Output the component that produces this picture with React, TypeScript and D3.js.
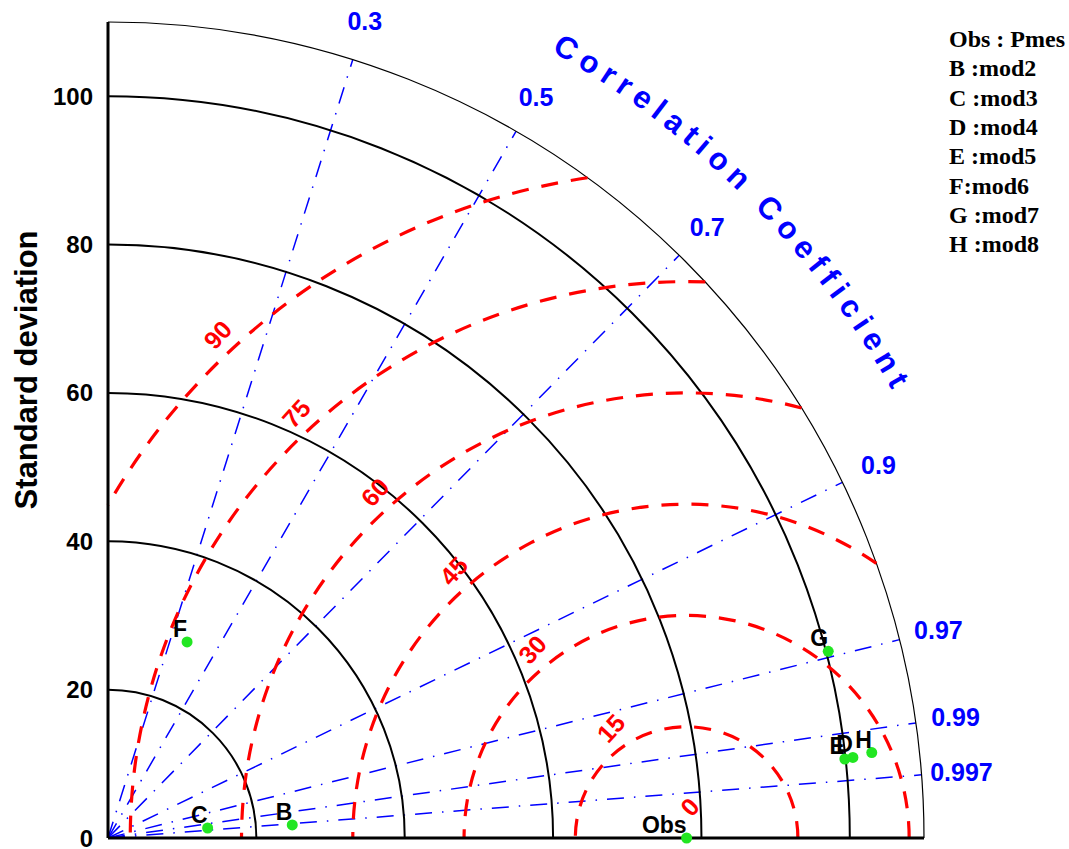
import React from "react";
import * as d3 from "d3";

// Taylor diagram: standard deviation (radius) vs correlation (angle)
const modelNames = ["Obs", "B", "C", "D", "E", "F", "G", "H"];
const modelStd = [78, 24.9, 13.5, 101.0, 99.9, 28.5, 100.3, 103.6];
const modelCorr = [1, 0.9975, 0.995, 0.9942, 0.9943, 0.374, 0.968, 0.9938];
const legendLines = ["Obs : Pmes", "B :mod2", "C :mod3", "D :mod4", "E :mod5", "F:mod6", "G :mod7", "H :mod8"];

const stdTicks = [0, 20, 40, 60, 80, 100];
const stdArcs = [20, 40, 60, 80, 100];
const stdMax = 110;
const corrTicks = [0.3, 0.5, 0.7, 0.9, 0.97, 0.99, 0.997];
const rmsLevels = [0, 15, 30, 45, 60, 75, 90];
const obsStd = 78;

const W = 1069;
const H = 849;
const ox = 108;
const oy = 838;
const SANS = "'Liberation Sans', Arial, sans-serif";
const SERIF = "'Liberation Serif', 'Times New Roman', serif";

const r = d3.scaleLinear().domain([0, stdMax]).range([0, 816]);

// polar -> pixel (angle in radians, math convention)
const px = (s: number, a: number) => ox + r(s) * Math.cos(a);
const py = (s: number, a: number) => oy - r(s) * Math.sin(a);

function quarterArc(s: number) {
  const p = d3.path();
  p.moveTo(ox, oy - r(s));
  p.arc(ox, oy, r(s), -Math.PI / 2, 0, false);
  return p.toString();
}

function rmsArc(R: number) {
  // circle around obs point, clipped to first quadrant and inside stdMax
  const lo = Math.acos(Math.min(1, (stdMax * stdMax - obsStd * obsStd - R * R) / (2 * obsStd * R)));
  const hi = Math.acos(Math.max(-1, -obsStd / R));
  const cx = ox + r(obsStd);
  const p = d3.path();
  p.moveTo(cx + r(R) * Math.cos(lo), oy - r(R) * Math.sin(lo));
  p.arc(cx, oy, r(R), -lo, -hi, true);
  return p.toString();
}

function titleArc() {
  const R = 903;
  const a0 = (60.6 * Math.PI) / 180;
  const a1 = (15 * Math.PI) / 180;
  const p = d3.path();
  p.moveTo(ox + R * Math.cos(a0), oy - R * Math.sin(a0));
  p.arc(ox, oy, R, -a0, -a1, false);
  return p.toString();
}

export default function App() {
  const lab = (3 * Math.PI) / 4;
  return (
    <div style={{ position: "absolute", left: 0, top: 0 }}>
      <svg width={W} height={H} style={{ display: "block", background: "#fff" }}>
        <defs>
          <path id="ccArc" d={titleArc()} />
        </defs>

        {/* correlation rays */}
        {corrTicks.map((c) => {
          const a = Math.acos(c);
          return (
            <g key={"c" + c}>
              <line x1={ox} y1={oy} x2={px(stdMax, a)} y2={py(stdMax, a)}
                stroke="#0000ff" strokeWidth={1.5} strokeDasharray="17,10,1.5,10" />
              <text x={px(115.4, a)} y={py(115.4, a)} fill="#0000ff" fontFamily={SANS}
                fontWeight="bold" fontSize={25} textAnchor="middle" dominantBaseline="central">
                {String(c)}
              </text>
            </g>
          );
        })}

        {/* std arcs */}
        {stdArcs.map((s) => (
          <path key={"s" + s} d={quarterArc(s)} fill="none" stroke="#000" strokeWidth={2} />
        ))}
        <path d={quarterArc(stdMax)} fill="none" stroke="#000" strokeWidth={1.2} />

        {/* centered RMS arcs */}
        {rmsLevels.map((R) => {
          const cx = ox + r(obsStd);
          const lx = cx + r(R) * Math.cos(lab) + 3;
          const ly = oy - r(R) * Math.sin(lab) - r(4.2);
          return (
            <g key={"r" + R}>
              {R > 0 && (
                <path d={rmsArc(R)} fill="none" stroke="#ff0000" strokeWidth={3.2} strokeDasharray="17,13" />
              )}
              <text x={lx} y={ly} fill="#ff0000" fontFamily={SANS} fontSize={25} fontWeight="bold"
                textAnchor="middle" dominantBaseline="central" transform={`rotate(-48 ${lx} ${ly})`}>
                {R}
              </text>
            </g>
          );
        })}

        {/* axes */}
        <line x1={ox} y1={oy} x2={ox} y2={oy - r(stdMax)} stroke="#000" strokeWidth={3} />
        <line x1={ox} y1={oy} x2={ox + r(stdMax)} y2={oy} stroke="#000" strokeWidth={3} />

        {stdTicks.map((t) => (
          <text key={"t" + t} x={93} y={oy - r(t)} fontFamily={SANS} fontWeight="bold" fontSize={24}
            textAnchor="end" dominantBaseline="central" fill="#000">
            {t}
          </text>
        ))}

        <text transform={`translate(37 370) rotate(-90)`} textAnchor="middle" fontFamily={SANS}
          fontWeight="bold" fontSize={31} fill="#000">
          Standard deviation
        </text>

        <text fill="#0000ff" fontFamily={SANS} fontWeight="bold" fontSize={31} style={{ letterSpacing: "6.9px" }}>
          <textPath href="#ccArc">Correlation Coefficient</textPath>
        </text>

        {/* models */}
        {modelNames.map((n, i) => {
          const a = Math.acos(modelCorr[i]);
          const x = px(modelStd[i], a);
          const y = py(modelStd[i], a);
          return (
            <g key={"m" + n}>
              <circle cx={x} cy={y} r={5.5} fill="#22e622" />
              <text x={x} y={y - 5} textAnchor="end" fontFamily={SANS} fontWeight="bold"
                fontSize={23} fill="#000">
                {n}
              </text>
            </g>
          );
        })}

        {/* legend */}
        {legendLines.map((l, i) => (
          <text key={"l" + i} x={949} y={47 + i * 29.3} fontFamily={SERIF} fontWeight="bold"
            fontSize={24} fill="#000">
            {l}
          </text>
        ))}
      </svg>
    </div>
  );
}
